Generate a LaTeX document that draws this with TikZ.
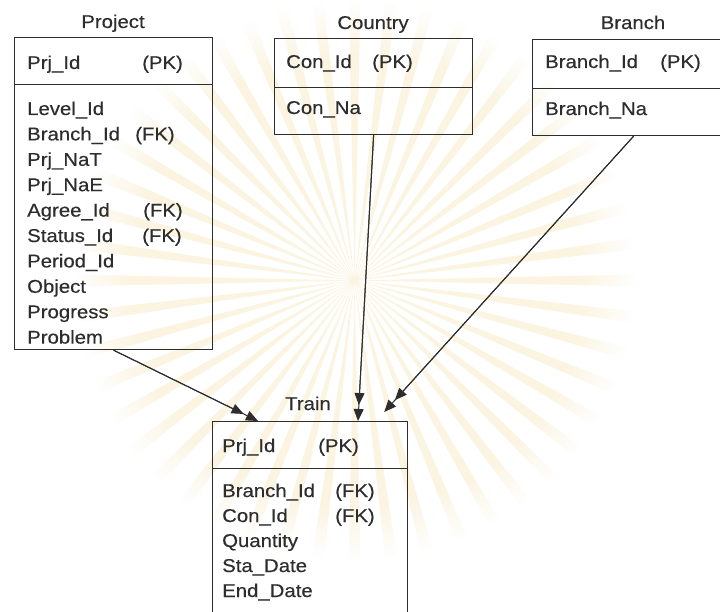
\documentclass[tikz,border=0pt]{standalone}
\usepackage{fontspec}
\setmainfont{Liberation Sans}[FakeStretch=1.1,FakeBold=0.35]
\usetikzlibrary{arrows.meta,calc,fadings}
\definecolor{ink}{RGB}{45,45,45}
\definecolor{raycol}{RGB}{251,244,224}
% a field name padded to a fixed width, followed by its key marker
\newcommand\keyed[3]{\makebox[#1pt][l]{#2}#3}
\begin{document}
\begin{tikzpicture}[x=1pt,y=-1pt,
  box/.style={draw=ink, line width=1.2pt, rectangle, inner sep=0pt, anchor=north west},
  lbl/.style={inner sep=0pt, anchor=base west, text=ink, font=\fontsize{18.5}{22}\selectfont},
  ttl/.style={inner sep=0pt, anchor=base, text=ink, font=\fontsize{18.5}{22}\selectfont},
  rel/.style={draw=ink, line width=1pt, -{Triangle[length=12pt,width=10pt]}}]
\useasboundingbox (0,0) rectangle (720,612);
\clip (0,0) rectangle (720,612);
\fill[white] (0,0) rectangle (720,612);

% faint emblem rays in the background
\fill[raycol, path fading=circle with fuzzy edge 20 percent]
  foreach \a in {0,7.5,...,352.5} {
    (355,280) -- +(\a-1.2:280) -- +(\a+1.2:280) -- cycle };

% ---- Project ----
\node[ttl] (projT) at (113,28) {Project};
\node[box, minimum width=198pt, minimum height=47pt] (projH) at (14,37) {};
\node[box, minimum width=198pt, minimum height=265pt] (projB) at (14,84) {};
\node[lbl] (projK) at (27,69) {\keyed{115}{Prj\_Id}{(PK)}};
\foreach \t [count=\i] in {Level\_Id, {\keyed{108}{Branch\_Id}{(FK)}}, Prj\_NaT, Prj\_NaE,
    {\keyed{116}{Agree\_Id}{(FK)}}, {\keyed{115}{Status\_Id}{(FK)}}, Period\_Id,
    Object, Progress, Problem}
  \node[lbl] (projF\i) at (27,{115+25.4*(\i-1)}) {\t};

% ---- Country ----
\node[ttl] (conT) at (373,29) {Country};
\node[box, minimum width=198pt, minimum height=49pt] (conH) at (274,38) {};
\node[box, minimum width=198pt, minimum height=47pt] (conB) at (274,87) {};
\node[lbl] (conK) at (286,68) {\keyed{86}{Con\_Id}{(PK)}};
\node[lbl] (conF1) at (286,114) {Con\_Na};

% ---- Branch ----
\node[ttl] (brT) at (633,29) {Branch};
\node[box, minimum width=202pt, minimum height=49pt] (brH) at (532,39) {};
\node[box, minimum width=202pt, minimum height=47pt] (brB) at (532,88) {};
\node[lbl] (brK) at (545,68) {\keyed{115}{Branch\_Id}{(PK)}};
\node[lbl] (brF1) at (545,115) {Branch\_Na};

% ---- Train ----
\node[ttl] (trT) at (308,410) {Train};
\node[box, minimum width=195pt, minimum height=47pt] (trH) at (212,421) {};
\node[box, minimum width=195pt, minimum height=170pt] (trB) at (212,468) {};
\node[lbl] (trK) at (222,452) {\keyed{96}{Prj\_Id}{(PK)}};
\foreach \t [count=\i] in {{\keyed{113}{Branch\_Id}{(FK)}}, {\keyed{113}{Con\_Id}{(FK)}},
    Quantity, Sta\_Date, End\_Date}
  \node[lbl] (trF\i) at (222,{497+25*(\i-1)}) {\t};

% ---- relationships (one-to-many: doubled heads) ----
\coordinate (trP) at ($(trH.north west)+(46,0)$);
\coordinate (trC) at ($(trH.north west)+(146,0)$);
\coordinate (trBr) at ($(trH.north east)+(-24,-9)$);
\foreach \s/\e in {projB/trP, conB/trC, brB/trBr} {
  \draw[rel] (\s.south) -- (\e);
  \draw[rel] (\s.south) -- ($(\e)!16pt!(\s.south)$);
}
\end{tikzpicture}
\end{document}
